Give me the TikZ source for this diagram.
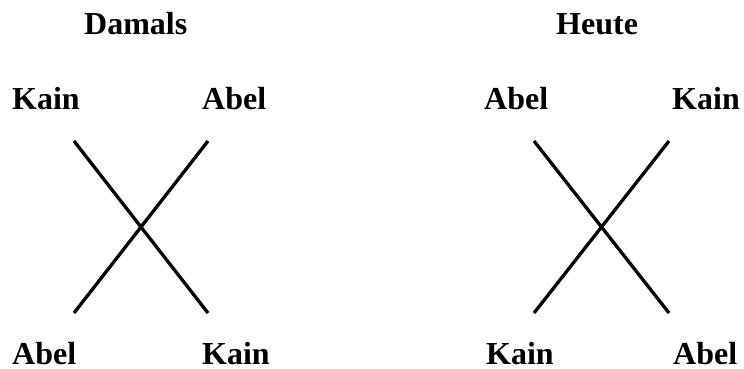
\documentclass[tikz,border=0pt]{standalone}
\usepackage{fontspec}
\setmainfont{Liberation Serif}
\begin{document}
\begin{tikzpicture}[x=1pt,y=-1pt,
  lbl/.style={font=\fontsize{32}{32}\selectfont\bfseries, inner sep=0pt, anchor=base west},
  cross/.style={line width=3.3pt}]
\useasboundingbox (0,0) rectangle (744,369);
% left panel
\node[lbl] (damals) at (84,35) {Damals};
\node[lbl] (lk1) at (12,109) {Kain};
\node[lbl] (la1) at (202,109) {Abel};
\node[lbl] (la2) at (12,364) {Abel};
\node[lbl] (lk2) at (202,364) {Kain};
\coordinate (l1) at (74,141);
\coordinate (l2) at (208,141);
\coordinate (l3) at (74,313);
\coordinate (l4) at (208,313);
\draw[cross] (l1) -- (l4);
\draw[cross] (l2) -- (l3);
% right panel
\node[lbl] (heute) at (556,35) {Heute};
\node[lbl] (ra1) at (484,109) {Abel};
\node[lbl] (rk1) at (672,109) {Kain};
\node[lbl] (rk2) at (486,364) {Kain};
\node[lbl] (ra2) at (673,364) {Abel};
\coordinate (r1) at (534,141);
\coordinate (r2) at (669,141);
\coordinate (r3) at (534,313);
\coordinate (r4) at (669,313);
\draw[cross] (r1) -- (r4);
\draw[cross] (r2) -- (r3);
\end{tikzpicture}
\end{document}
